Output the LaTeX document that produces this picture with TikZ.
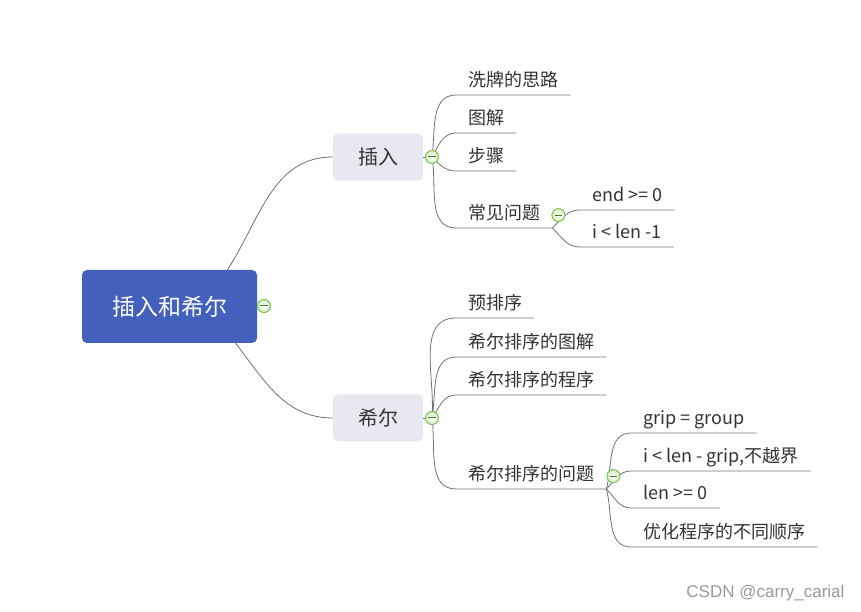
\documentclass[tikz,border=0pt]{standalone}
\usepackage{fontspec}
\setmainfont{Noto Sans CJK SC}
\newfontfamily\markfont{Liberation Sans}
\usetikzlibrary{backgrounds}

\definecolor{rootblue}{HTML}{4360BC}
\definecolor{branchgray}{HTML}{E8E8F1}
\definecolor{linkgray}{HTML}{707070}
\definecolor{foldgreen}{HTML}{7DC34A}
\definecolor{folddark}{HTML}{3E7F1F}
\definecolor{textdark}{HTML}{333333}

\tikzset{
    root/.style={fill=rootblue, rounded corners=5pt, minimum width=175pt,
        minimum height=73pt, text=white, font=\fontsize{23}{27}\selectfont},
    branch/.style={fill=branchgray, rounded corners=5pt, minimum width=90pt,
        minimum height=47pt, text=textdark, font=\fontsize{20}{24}\selectfont},
    leaf/.style={anchor=south west, inner xsep=12pt, inner ysep=4.2pt,
        text height=13pt, text depth=4pt, text=textdark,
        font=\fontsize{18}{22}\selectfont},
    fold/.style={circle, draw=foldgreen, line width=1pt, inner sep=0pt,
        minimum size=13pt, inner color=white, outer color=foldgreen!30,
        path picture={\draw[folddark, line width=1pt]
            ([xshift=-3.8pt]path picture bounding box.center) --
            ([xshift=3.8pt]path picture bounding box.center);}},
    link/.style={draw=linkgray, line width=0.8pt},
}

\begin{document}
\begin{tikzpicture}[x=1pt, y=1pt]
    \useasboundingbox (0,0) rectangle (861,612);

    % centre and the two branches
    \node[root] (root) at (169.5,305.5) {插入和希尔};
    \node[branch] (ins) at (378,455) {插入};
    \node[branch] (shell) at (378,194) {希尔};

    % insertion sort
    \node[leaf] (i1) at (456,517) {洗牌的思路};
    \node[leaf] (i2) at (456,479) {图解};
    \node[leaf] (i3) at (456,441) {步骤};
    \node[leaf] (i4) at (456,384) {常见问题};
    \node[leaf] (i5) at (580,402) {end >= 0};
    \node[leaf] (i6) at (580,365) {i < len -1};

    % shell sort
    \node[leaf] (h1) at (456,294) {预排序};
    \node[leaf] (h2) at (456,255) {希尔排序的图解};
    \node[leaf] (h3) at (456,217) {希尔排序的程序};
    \node[leaf] (h4) at (456,123) {希尔排序的问题};
    \node[leaf] (g1) at (631,179) {grip = group};
    \node[leaf] (g2) at (631,141) {i < len - grip,不越界};
    \node[leaf] (g3) at (631,104) {len >= 0};
    \node[leaf] (g4) at (631,65) {优化程序的不同顺序};

    % fold buttons
    \node[fold] (f0) at (264,306) {};
    \node[fold] (f1) at (432,455) {};
    \node[fold] (f2) at (432,194) {};
    \node[fold] (f3) at ([xshift=6pt]i4.east) {};
    \node[fold] (f4) at ([xshift=7pt]h4.east) {};

    \begin{pgfonlayer}{background}
        \draw[link] ([xshift=58pt]root.north) to[out=57,in=180] (ins.west);
        \draw[link] ([xshift=66pt]root.south) to[out=-52,in=180] (shell.west);
        \draw[link] (root.east) -- (f0.center);
        \draw[link] (ins.east) -- (f1.center);
        \draw[link] (shell.east) -- (f2.center);

        \foreach \n/\a in {i1/82, i2/60, i3/-45, i4/-80}
            \draw[link] (f1.center) to[out=\a,in=180] (\n.south west) -- (\n.south east);
        \foreach \n/\a in {i5/45, i6/-45}
            \draw[link] (i4.south east) to[out=\a,in=180] (\n.south west) -- (\n.south east);

        \foreach \n/\a in {h1/85, h2/80, h3/55, h4/-82}
            \draw[link] (f2.center) to[out=\a,in=180] (\n.south west) -- (\n.south east);
        \foreach \n/\a in {g1/75, g2/45, g3/-45, g4/-75}
            \draw[link] (h4.south east) to[out=\a,in=180] (\n.south west) -- (\n.south east);
    \end{pgfonlayer}

    \node[anchor=east, text=gray!80, font=\markfont\fontsize{17}{20}\selectfont] (mark) at (848,19) {CSDN @carry\_carial};
\end{tikzpicture}
\end{document}
